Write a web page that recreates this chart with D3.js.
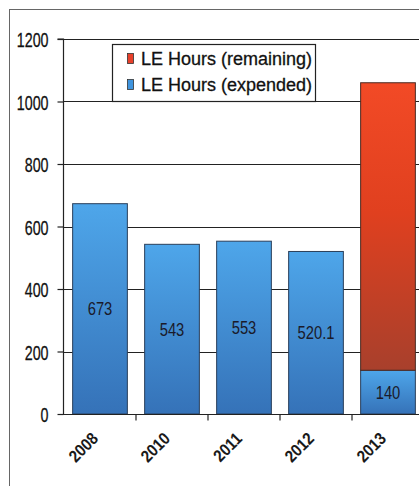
<!DOCTYPE html>
<html><head><meta charset="utf-8">
<script src="https://cdn.jsdelivr.net/npm/d3@7"></script>
<style>body{margin:0;background:#fff;}svg{display:block;}</style>
</head><body>
<script>
const categories = ["2008", "2010", "2011", "2012", "2013"];
const expended = [673, 543, 553, 520.1, 140];
const remaining = [0, 0, 0, 0, 920];
const expendedLabels = ["673", "543", "553", "520.1", "140"];
const yTicks = [0, 200, 400, 600, 800, 1000, 1200];
const seriesNames = ["LE Hours (remaining)", "LE Hours (expended)"];

const W = 419, H = 486;
const FONT = "'Liberation Sans Narrow','Arial Narrow','Liberation Sans',Arial,sans-serif";
const svg = d3.select("body").append("svg").attr("width", W).attr("height", H);
const defs = svg.append("defs");
const gb = defs.append("linearGradient").attr("id", "gBlue").attr("x1", 0).attr("y1", 0).attr("x2", 0).attr("y2", 1);
gb.append("stop").attr("offset", "0%").attr("stop-color", "#4ea6ea");
gb.append("stop").attr("offset", "100%").attr("stop-color", "#3572b8");
const gr = defs.append("linearGradient").attr("id", "gRed").attr("x1", 0).attr("y1", 0).attr("x2", 0).attr("y2", 1);
gr.append("stop").attr("offset", "0%").attr("stop-color", "#f24a26");
gr.append("stop").attr("offset", "45%").attr("stop-color", "#e0401f");
gr.append("stop").attr("offset", "100%").attr("stop-color", "#a8402c");

// outer frame
svg.append("rect").attr("x", 9.5).attr("y", 9.5).attr("width", W + 20).attr("height", H + 20)
  .attr("fill", "#fff").attr("stroke", "#666").attr("stroke-width", 1);

const x = d3.scaleBand().domain(categories).range([64, 424]).paddingInner(0.24).paddingOuter(0.12);
const y = d3.scaleLinear().domain([0, 1200]).range([414, 39]);

// gridlines
svg.append("g").selectAll("line").data(yTicks.filter(d => d > 0)).join("line")
  .attr("x1", 63).attr("x2", W + 5)
  .attr("y1", d => Math.round(y(d)) + 0.5).attr("y2", d => Math.round(y(d)) + 0.5)
  .attr("stroke", "#222").attr("stroke-width", 1.2);

// bars
const bars = svg.append("g");
bars.selectAll("rect.exp").data(categories).join("rect").attr("class", "exp")
  .attr("x", d => x(d)).attr("width", x.bandwidth())
  .attr("y", (d, i) => y(expended[i])).attr("height", (d, i) => y(0) - y(expended[i]))
  .attr("fill", "url(#gBlue)").attr("stroke", "#2a3f5a").attr("stroke-width", 1);
bars.selectAll("rect.rem").data(categories.filter((d, i) => remaining[i] > 0)).join("rect").attr("class", "rem")
  .attr("x", d => x(d)).attr("width", x.bandwidth())
  .attr("y", d => { const i = categories.indexOf(d); return y(expended[i] + remaining[i]); })
  .attr("height", d => { const i = categories.indexOf(d); return y(expended[i]) - y(expended[i] + remaining[i]); })
  .attr("fill", "url(#gRed)").attr("stroke", "#4a2a22").attr("stroke-width", 1);

// value labels
svg.append("g").selectAll("text").data(categories).join("text")
  .attr("transform", (d, i) => `translate(${x(d) + x.bandwidth() / 2},${y(expended[i] / 2)}) scale(0.82,1)`)
  .attr("dy", "0.36em")
  .attr("text-anchor", "middle")
  .attr("font-family", FONT)
  .attr("font-size", 18).attr("fill", "#1a1a2a")
  .text((d, i) => expendedLabels[i]);

// y axis
const yAxis = d3.axisLeft(y).tickValues(yTicks).tickSize(6).tickPadding(5).tickFormat(d3.format("d"));
const gy = svg.append("g").attr("transform", "translate(63.5,0)").call(yAxis);
gy.select(".domain").attr("stroke", "#222").attr("stroke-width", 1.2).attr("d", `M-6,${y(1200)}H0V${y(0)}`);
gy.selectAll(".tick line").attr("stroke", "#222").attr("stroke-width", 1.2);
gy.selectAll(".tick text").each(function () {
  const t = d3.select(this);
  const tx = +t.attr("x");
  t.attr("x", null).attr("dy", "0.36em")
    .attr("transform", `translate(${tx - 4},0) scale(0.68,1)`)
    .attr("font-family", FONT)
    .attr("font-size", 21).attr("fill", "#111")
    .attr("stroke", "#111").attr("stroke-width", 0.3);
});

// x axis
const gx = svg.append("g").attr("transform", `translate(0,${Math.round(y(0)) + 0.5})`);
gx.append("line").attr("x1", 63).attr("x2", W + 5).attr("stroke", "#222").attr("stroke-width", 1.2);
const step = x.step();
const bounds = categories.map((d, i) => x(d) - x.paddingInner() * step / 2 + step);
gx.selectAll("line.tk").data(bounds).join("line").attr("class", "tk")
  .attr("x1", d => d).attr("x2", d => d).attr("y1", 0).attr("y2", 6)
  .attr("stroke", "#222").attr("stroke-width", 1.2);
gx.selectAll("text").data(categories).join("text")
  .attr("transform", d => `translate(${x(d) + x.bandwidth() / 2 - 5},${21}) rotate(-45) scale(0.88,1)`)
  .attr("text-anchor", "end").attr("dy", "0.35em")
  .attr("font-family", FONT)
  .attr("font-weight", "bold").attr("font-size", 17).attr("fill", "#1a1a1a")
  .text(d => d);

// legend
const lg = svg.append("g");
lg.append("rect").attr("x", 112.5).attr("y", 44.5).attr("width", 203).attr("height", 57)
  .attr("fill", "#fff").attr("stroke", "#222").attr("stroke-width", 1.2);
const legendFills = ["#e8402a", "#3f94de"];
seriesNames.forEach((name, i) => {
  const cy = 59 + i * 26;
  lg.append("rect").attr("x", 127.5).attr("y", cy - 5.5).attr("width", 6).attr("height", 10)
    .attr("fill", legendFills[i]).attr("stroke", "#333").attr("stroke-width", 0.8);
  lg.append("text").attr("x", 141).attr("y", cy).attr("dy", "0.36em")
    .attr("font-family", "'Liberation Sans',Arial,sans-serif").attr("font-size", 18)
    .attr("fill", "#111").attr("stroke", "#111").attr("stroke-width", 0.3).text(name);
});
</script>
</body></html>
